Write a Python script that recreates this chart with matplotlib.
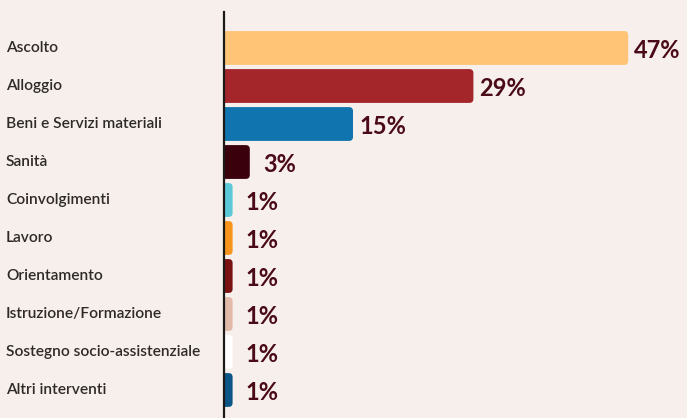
import numpy as np
import matplotlib.pyplot as plt
import matplotlib.transforms as mtransforms
from matplotlib.patches import FancyBboxPatch

# --- Dati ---
categorie = ["Ascolto", "Alloggio", "Beni e Servizi materiali", "Sanità",
             "Coinvolgimenti", "Lavoro", "Orientamento", "Istruzione/Formazione",
             "Sostegno socio-assistenziale", "Altri interventi"]
valori = [47, 29, 15, 3, 1, 1, 1, 1, 1, 1]
colori = ["#FFC475", "#A4262B", "#1074AE", "#3A000B", "#5CC9D9",
          "#F7941D", "#7A1214", "#E2BAAA", "#FFFFFF", "#0B5686"]

BG = "#F7EFEC"
TXT = "#2E2A28"
VAL = "#4A0A17"
plt.rcParams['font.family'] = ['Lato', 'DejaVu Sans']

fig = plt.figure(figsize=(6.87, 4.18), dpi=100, facecolor=BG)
ax = fig.add_axes([224/687, 0, 1 - 224/687, 1 - 12/418])
ax.set_facecolor(BG)

y = np.arange(len(categorie))
h = 0.89
bars = ax.barh(y, valori, height=h, color='none')

ax.set_xlim(0, (687 - 224) / 8.6)
ax.set_ylim(9 + 28/38, -36/38)

# barre con angoli arrotondati
px_x = 8.6        # pixel per unita' x
px_y = 38.0       # pixel per unita' y
r = 4.0 / px_x
for b, c in zip(bars, colori):
    x0, y0 = b.get_x(), b.get_y()
    w, hh = b.get_width(), b.get_height()
    rr = min(r, w / 2)
    p = FancyBboxPatch((x0 - rr, y0), w + rr, hh,
                       boxstyle=f"round,pad=0,rounding_size={rr}",
                       mutation_aspect=px_x / px_y,
                       facecolor=c, edgecolor='none', zorder=2)
    ax.add_patch(p)
    b.remove()

# etichette dei valori
for yi, v in zip(y, valori):
    off = 6 if v >= 10 else 13
    ax.annotate(f"{v}%", xy=(v, yi), xytext=(off * 0.72, -1.5), textcoords='offset points',
                ha='left', va='center', fontsize=17, fontweight='bold',
                fontstyle='normal', color=VAL)

# etichette delle categorie
trans = mtransforms.blended_transform_factory(fig.transFigure, ax.transData)
for yi, lab in zip(y, categorie):
    ax.text(6/687, yi, lab, transform=trans, ha='left', va='center',
            fontsize=11.2, fontweight='semibold', color=TXT, clip_on=False)

for s in ['top', 'right', 'bottom']:
    ax.spines[s].set_visible(False)
ax.spines['left'].set_color('#1a1a1a')
ax.spines['left'].set_linewidth(1.6)
ax.spines['left'].set_zorder(3)
ax.set_xticks([])
ax.set_yticks([])

fig.savefig("out.png", dpi=100, facecolor=BG)
